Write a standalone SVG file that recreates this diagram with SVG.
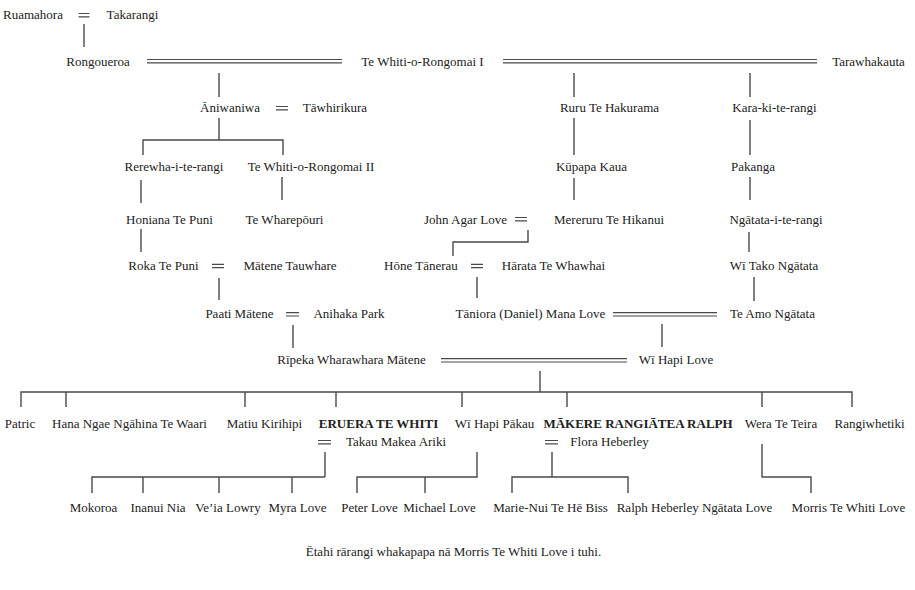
<svg xmlns="http://www.w3.org/2000/svg" width="915" height="590" viewBox="0 0 915 590">
<style>
text{font-family:"Liberation Serif","Times New Roman",serif;font-size:13px;fill:#222;text-anchor:middle}
.b{font-weight:bold}
.ln{stroke:#4a4a4a;stroke-width:1.4;fill:none}
.dl{stroke:#4a4a4a;stroke-width:1.2;fill:none}
</style>
<rect width="915" height="590" fill="#fff"/>
<g id="connectors">
<g class="dl">
<path d="M78.5 13.5H89.5M78.5 16.8H89.5"/>
<path d="M147 59.5H342M147 62.8H342"/>
<path d="M503 59.5H817M503 62.8H817"/>
<path d="M276 106.5H288M276 109.8H288"/>
<path d="M515 217.5H527M515 220.8H527"/>
<path d="M212 264.3H224M212 267.6H224"/>
<path d="M471 264.3H483M471 267.6H483"/>
<path d="M286 312.7H299M286 316H299"/>
<path d="M613 312.7H717M613 316H717"/>
<path d="M441 358.7H627M441 362H627"/>
<path d="M318 440.5H331M318 443.8H331"/>
<path d="M545 440.5H558M545 443.8H558"/>
</g>
<g class="ln">
<path d="M84 24V47"/>
<path d="M219 73V97"/>
<path d="M574 73V97"/>
<path d="M750 73V97"/>
<path d="M219 118V140M143 155V140H283V155"/>
<path d="M574 118V155"/>
<path d="M750 120V155"/>
<path d="M141 180V203"/>
<path d="M282 177V200"/>
<path d="M574 178V200"/>
<path d="M750 177V200"/>
<path d="M141 229V252"/>
<path d="M749 232V252"/>
<path d="M528 230V242H453V256"/>
<path d="M219 278V300"/>
<path d="M477 277V298"/>
<path d="M754 277V301"/>
<path d="M293 325V348"/>
<path d="M662 324V347"/>
<path d="M540 371V392"/>
<path d="M21 407V392H852V407M66 392V407M245 392V407M336 392V407M462 392V407M567 392V407M762 392V407"/>
<path d="M325 452V477M92 493V477H325M143 477V493M219 477V493M292 477V493"/>
<path d="M477 452V477H357V493M425 477V493"/>
<path d="M552 452V477M512 493V477H628V493"/>
<path d="M762 444V477H811V493"/>
</g>
</g>
<g id="n-ruamahora"><text x="33" y="19">Ruamahora</text></g>
<g id="n-takarangi"><text x="132.5" y="19">Takarangi</text></g>
<g id="n-rongoueroa"><text x="98" y="65.5">Rongoueroa</text></g>
<g id="n-tewhiti1"><text x="422.5" y="65.5">Te Whiti-o-Rongomai I</text></g>
<g id="n-tarawhakauta"><text x="868.5" y="65.5">Tarawhakauta</text></g>
<g id="n-aniwaniwa"><text x="230" y="112">Āniwaniwa</text></g>
<g id="n-tawhirikura"><text x="335" y="112">Tāwhirikura</text></g>
<g id="n-ruru"><text x="609.5" y="112">Ruru Te Hakurama</text></g>
<g id="n-kara"><text x="774.5" y="112">Kara-ki-te-rangi</text></g>
<g id="n-rerewha"><text x="174" y="171">Rerewha-i-te-rangi</text></g>
<g id="n-tewhiti2"><text x="311" y="171">Te Whiti-o-Rongomai II</text></g>
<g id="n-kupapa"><text x="591.5" y="171">Kūpapa Kaua</text></g>
<g id="n-pakanga"><text x="753" y="171">Pakanga</text></g>
<g id="n-honiana"><text x="169.5" y="223.5">Honiana Te Puni</text></g>
<g id="n-wharepouri"><text x="284.5" y="223.5">Te Wharepōuri</text></g>
<g id="n-john"><text x="465.5" y="223.5">John Agar Love</text></g>
<g id="n-mereruru"><text x="609" y="223.5">Mereruru Te Hikanui</text></g>
<g id="n-ngatata"><text x="776" y="223.5">Ngātata-i-te-rangi</text></g>
<g id="n-roka"><text x="163.5" y="270">Roka Te Puni</text></g>
<g id="n-matene"><text x="290" y="270">Mātene Tauwhare</text></g>
<g id="n-hone"><text x="421" y="270">Hōne Tānerau</text></g>
<g id="n-harata"><text x="553.5" y="270">Hārata Te Whawhai</text></g>
<g id="n-witako"><text x="774" y="270">Wī Tako Ngātata</text></g>
<g id="n-paati"><text x="239.5" y="318">Paati Mātene</text></g>
<g id="n-anihaka"><text x="349" y="318">Anihaka Park</text></g>
<g id="n-taniora"><text x="530.5" y="318">Tāniora (Daniel) Mana Love</text></g>
<g id="n-teamo"><text x="772.5" y="318">Te Amo Ngātata</text></g>
<g id="n-ripeka"><text x="351.5" y="364">Rīpeka Wharawhara Mātene</text></g>
<g id="n-wihapi"><text x="676" y="364">Wī Hapi Love</text></g>
<g id="n-patric"><text x="20" y="428">Patric</text></g>
<g id="n-hana"><text x="129.5" y="428">Hana Ngae Ngāhina Te Waari</text></g>
<g id="n-matiu"><text x="264.5" y="428">Matiu Kirihipi</text></g>
<g id="n-eruera"><text class="b" x="378.5" y="428">ERUERA TE WHITI</text></g>
<g id="n-wihapipakau"><text x="494.5" y="428">Wī Hapi Pākau</text></g>
<g id="n-makere"><text class="b" x="638" y="428">MĀKERE RANGIĀTEA RALPH</text></g>
<g id="n-wera"><text x="781" y="428">Wera Te Teira</text></g>
<g id="n-rangiwhetiki"><text x="869.5" y="428">Rangiwhetiki</text></g>
<g id="n-takau"><text x="396" y="446">Takau Makea Ariki</text></g>
<g id="n-flora"><text x="609.5" y="446">Flora Heberley</text></g>
<g id="n-mokoroa"><text x="93.5" y="512">Mokoroa</text></g>
<g id="n-inanui"><text x="158" y="512">Inanui Nia</text></g>
<g id="n-veia"><text x="228" y="512">Ve’ia Lowry</text></g>
<g id="n-myra"><text x="297.5" y="512">Myra Love</text></g>
<g id="n-peter"><text x="369.5" y="512">Peter Love</text></g>
<g id="n-michael"><text x="439.5" y="512">Michael Love</text></g>
<g id="n-marie"><text x="550.5" y="512">Marie-Nui Te Hē Biss</text></g>
<g id="n-ralph"><text x="694.5" y="512">Ralph Heberley Ngātata Love</text></g>
<g id="n-morris"><text x="848.5" y="512">Morris Te Whiti Love</text></g>
<g id="caption"><text x="453.5" y="556">Ētahi rārangi whakapapa nā Morris Te Whiti Love i tuhi.</text></g>
</svg>
